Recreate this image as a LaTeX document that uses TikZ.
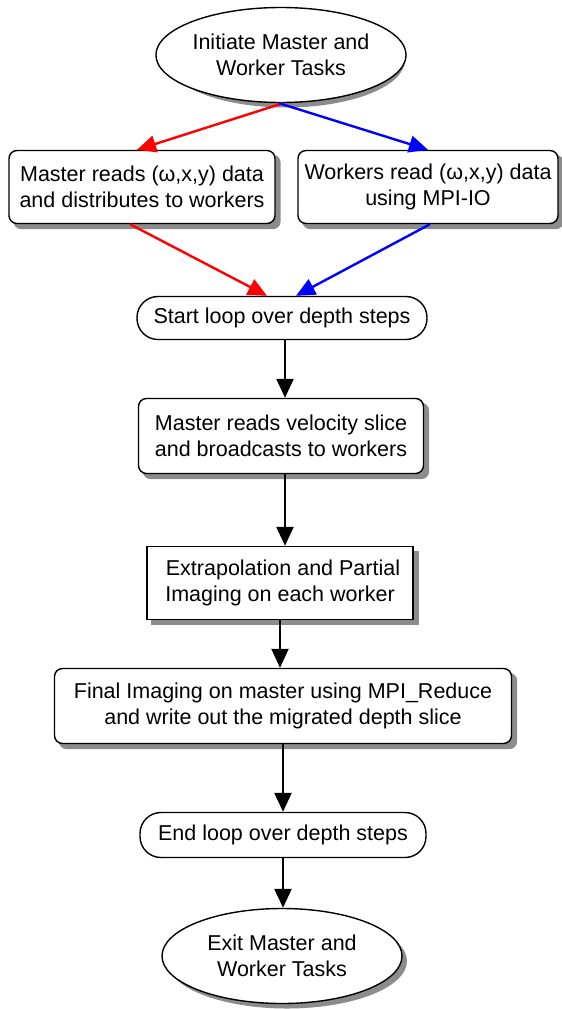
\documentclass[tikz,border=0pt]{standalone}
\usepackage{fontspec}
\setmainfont{Liberation Sans}
\usetikzlibrary{shapes.geometric,arrows.meta,calc,backgrounds}
\definecolor{shd}{RGB}{140,140,140}
\begin{document}
\begin{tikzpicture}[x=1pt,y=-1pt,
  every node/.style={font=\fontsize{21.5}{26}\selectfont, align=center, inner sep=0pt},
  oval/.style={ellipse, draw=black, line width=1.4pt, fill=white},
  flat/.style={rectangle, rounded corners=21pt, draw=black, line width=1.4pt, fill=white},
  rbox/.style={rectangle, rounded corners=8pt, draw=black, line width=1.4pt, fill=white},
  sbox/.style={rectangle, draw=black, line width=1.4pt, fill=white},
  shadowfill/.style={fill=shd},
  arr/.style={line width=2.4pt, -{Triangle[length=19pt,width=17pt]}}
]
\useasboundingbox (0,0) rectangle (562,1009);
\node[oval, minimum width=238pt, minimum height=95pt] (init) at (281,55) {Initiate Master and\\Worker Tasks};
\node[rbox, minimum width=266pt, minimum height=73pt] (mr) at (142,187) {Master reads (ω,x,y) data\\and distributes to workers};
\node[rbox, minimum width=260pt, minimum height=73pt] (wr) at (428,187) {Workers read (ω,x,y) data\\using MPI-IO};
\node[flat, minimum width=290pt, minimum height=43pt] (sl) at (282,318) {Start loop over depth steps};
\node[rbox, minimum width=285pt, minimum height=75pt] (mv) at (281,436) {Master reads velocity slice\\and broadcasts to workers};
\node[sbox, minimum width=266pt, minimum height=73pt] (ex) at (280,583) {\hspace*{6pt}Extrapolation and Partial\\Imaging on each worker};
\node[rbox, minimum width=457pt, minimum height=75pt] (fi) at (283,706) {Final Imaging on master using MPI\_Reduce\\and write out the migrated depth slice};
\node[flat, minimum width=286pt, minimum height=45pt] (el) at (283,835) {End loop over depth steps};
\node[oval, minimum width=240pt, minimum height=95pt] (xt) at (282,956) {Exit Master and\\Worker Tasks};

\begin{scope}[on background layer]
  \fill[shadowfill] ($(init.center)+(5,5)$) ellipse [x radius=119, y radius=47.5];
  \fill[shadowfill] ($(xt.center)+(5,5)$) ellipse [x radius=120, y radius=47.5];
  \fill[shadowfill, rounded corners=8pt] ($(mr.north west)+(5,5)$) rectangle ($(mr.south east)+(5,5)$);
  \fill[shadowfill, rounded corners=8pt] ($(wr.north west)+(5,5)$) rectangle ($(wr.south east)+(5,5)$);
  \fill[shadowfill, rounded corners=8pt] ($(mv.north west)+(5,5)$) rectangle ($(mv.south east)+(5,5)$);
  \fill[shadowfill] ($(ex.north west)+(5,5)$) rectangle ($(ex.south east)+(5,5)$);
  \fill[shadowfill, rounded corners=8pt] ($(fi.north west)+(5,5)$) rectangle ($(fi.south east)+(5,5)$);
\end{scope}

\draw[arr, red] ($(init.south)+(2,0)$) -- ($(mr.north)+(-5,0)$);
\draw[arr, blue] ($(init.south)+(-2,0)$) -- (wr.north);
\draw[arr, red] ($(mr.south)+(-12,0)$) -- ($(sl.north)+(-15,0)$);
\draw[arr, blue] ($(wr.south)+(2,0)$) -- ($(sl.north)+(14,0)$);
\draw[arr] ($(sl.south)+(3,0)$) -- ($(mv.north)+(4,0)$);
\draw[arr] ($(mv.south)+(4,0)$) -- ($(ex.north)+(5,0)$);
\draw[arr] (ex.south) -- (ex.south |- fi.north);
\draw[arr] (fi.south) -- (el.north);
\draw[arr] (el.south) -- (el.south |- xt.north);
\end{tikzpicture}
\end{document}
